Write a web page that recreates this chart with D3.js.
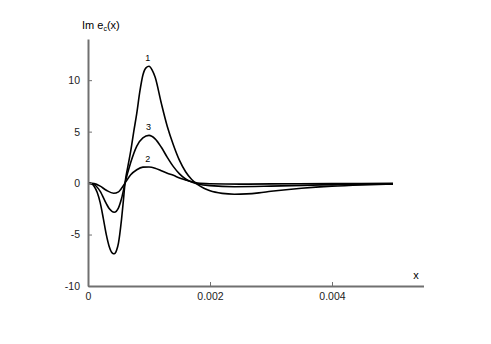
<!DOCTYPE html>
<html><head><meta charset="utf-8">
<script src="https://cdn.jsdelivr.net/npm/d3@7"></script>
<style>body{margin:0;background:#fff}svg{display:block}</style>
</head><body>
<svg id="c" width="491" height="344"></svg>
<script>
// x values in units of 0.001
const xs1 = [0,0.05,0.1,0.15,0.2,0.25,0.3,0.35,0.4,0.43,0.47,0.5,0.52,0.55,0.58,0.607,0.65,0.7,0.75,0.8,0.85,0.9,0.95,1.0,1.05,1.1,1.2,1.3,1.4,1.5,1.6,1.7,1.8,1.9,2.0,2.2,2.4,2.6,2.8,3.0,3.5,4.0,4.5,5.0];
const y1  = [0,-0.05,-0.3,-0.9,-1.9,-3.4,-5.0,-6.2,-6.8,-6.87,-6.5,-5.8,-5.0,-3.5,-1.7,0,1.5,3.1,5.0,6.8,8.9,10.5,11.2,11.35,11.0,10.3,7.8,5.5,3.7,2.2,1.1,0.35,-0.15,-0.5,-0.75,-1.0,-1.08,-1.05,-0.95,-0.8,-0.5,-0.3,-0.18,-0.1];
const xs3 = [0,0.1,0.2,0.3,0.35,0.43,0.5,0.55,0.607,0.7,0.8,0.9,1.0,1.1,1.2,1.3,1.4,1.5,1.6,1.7,1.8,2.0,2.4,3.0,4.0,5.0];
const y3  = [0,-0.15,-0.8,-2.0,-2.5,-2.83,-2.4,-1.5,0,2.0,3.6,4.4,4.64,4.3,3.5,2.5,1.6,0.9,0.4,0.1,-0.08,-0.25,-0.35,-0.3,-0.15,-0.07];
const xs2 = [0,0.1,0.2,0.3,0.42,0.5,0.55,0.607,0.7,0.8,0.9,1.0,1.1,1.2,1.3,1.4,1.5,1.6,1.7,1.8,2.0,2.5,3.0,4.0,5.0];
const y2  = [0,-0.05,-0.3,-0.7,-0.99,-0.85,-0.5,0,0.8,1.3,1.55,1.57,1.45,1.2,0.95,0.75,0.5,0.3,0.12,0,-0.06,-0.1,-0.08,-0.05,-0.03];
const yTicks = [-10,-5,0,5,10];
const yTickLabels = ["-10","-5","0","5","10"];
const xTicks = [0,0.002,0.004];
const xTickLabels = ["0","0.002","0.004"];
const curveLabels = [{t:"1",x:0.00098,y:11.4},{t:"3",x:0.00099,y:4.64},{t:"2",x:0.00098,y:1.57}];

const svg = d3.select("#c");
const x = d3.scaleLinear().domain([0,0.0055]).range([88,423.5]);
const y = d3.scaleLinear().domain([-10,14]).range([286,39]);
const axisColor = "#707070";
const font = "Liberation Sans, Arial, sans-serif";

const line = d3.line().x(d=>x(d[0]/1000)).y(d=>y(d[1])).curve(d3.curveMonotoneX);
[[xs1,y1],[xs3,y3],[xs2,y2]].forEach(([xa,ya])=>{
  svg.append("path").datum(xa.map((v,i)=>[v,ya[i]]))
    .attr("d",line).attr("fill","none").attr("stroke","#000").attr("stroke-width",1.6);
});

// axes
const gx = svg.append("g").attr("transform",`translate(0,${y(-10)})`)
  .call(d3.axisBottom(x).tickValues(xTicks).tickFormat((d,i)=>xTickLabels[i]).tickSizeInner(-4).tickSizeOuter(0).tickPadding(7));
const gy = svg.append("g").attr("transform",`translate(${x(0)},0)`)
  .call(d3.axisLeft(y).tickValues(yTicks).tickFormat((d,i)=>yTickLabels[i]).tickSizeInner(-4).tickSizeOuter(0).tickPadding(8));
[gx,gy].forEach(g=>{
  g.select(".domain").attr("stroke",axisColor).attr("stroke-width",2);
  g.selectAll(".tick line").attr("stroke",axisColor).attr("stroke-width",1);
  g.selectAll(".tick text").attr("font-family",font).attr("font-size",10.5).attr("fill","#222");
});

svg.selectAll(".clab").data(curveLabels).enter().append("text")
  .attr("x",d=>x(d.x)).attr("y",d=>y(d.y)-5).attr("text-anchor","middle")
  .attr("font-family",font).attr("font-size",9).attr("fill","#000").text(d=>d.t);

const t = svg.append("text").attr("x",82).attr("y",29).attr("font-family",font).attr("font-size",11).attr("fill","#000");
t.append("tspan").text("Im e");
t.append("tspan").attr("font-size",7).attr("dy",2).text("c");
t.append("tspan").attr("dy",-2).text("(x)");
svg.append("text").attr("x",416).attr("y",279).attr("text-anchor","middle").attr("font-family",font).attr("font-size",11).text("x");
</script>
</body></html>
